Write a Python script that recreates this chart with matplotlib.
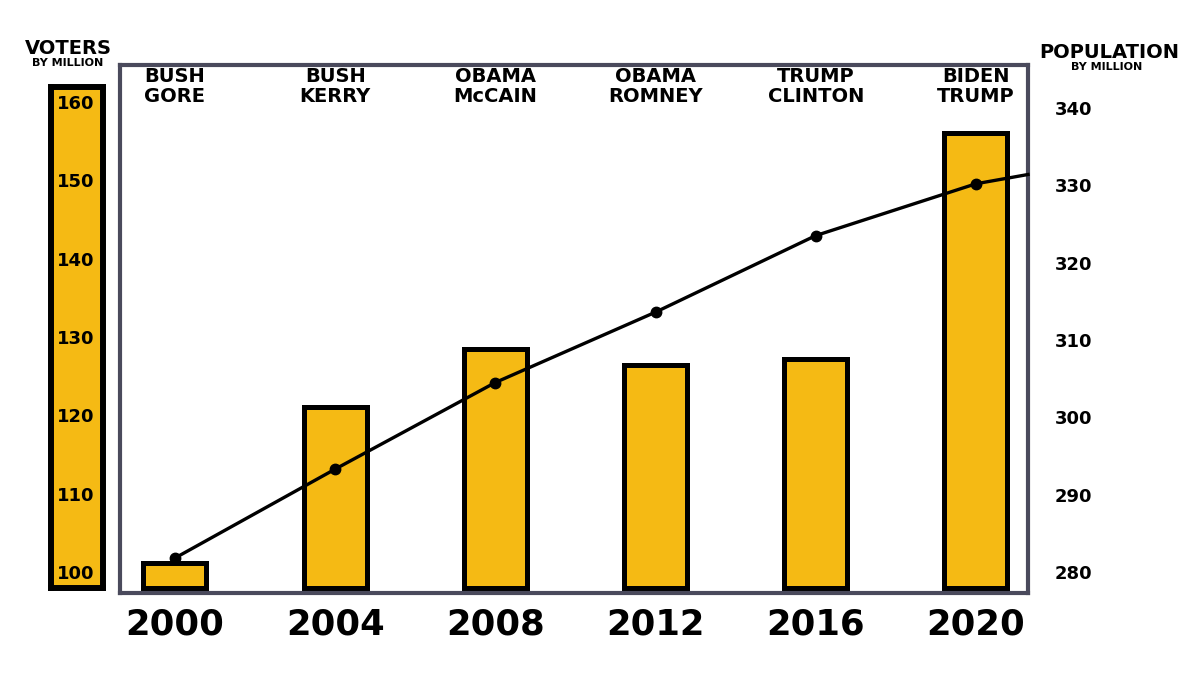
import matplotlib
matplotlib.use("Agg")
import matplotlib.pyplot as plt
from matplotlib import transforms

# ---- data ----
years = ["2000", "2004", "2008", "2012", "2016", "2020"]
candidates_top = ["BUSH", "BUSH", "OBAMA", "OBAMA", "TRUMP", "BIDEN"]
candidates_bottom = ["GORE", "KERRY", "McCAIN", "ROMNEY", "CLINTON", "TRUMP"]
voters = [101.4, 121.3, 128.7, 126.7, 127.5, 156.3]          # millions
population = [281.8, 293.3, 304.5, 313.6, 323.5, 330.2]       # millions
population_trend_end = 331.4                                   # line continues to frame edge
voter_ticks = [100, 110, 120, 130, 140, 150, 160]
pop_ticks = [280, 290, 300, 310, 320, 330, 340]

YELLOW = "#F5BA14"
FRAME = "#4A4A5C"
FONT = "DejaVu Sans"

W, H = 1200, 682
fig = plt.figure(figsize=(W / 100, H / 100), dpi=100)
fig.patch.set_facecolor("white")


def fx(px):
    return px / W


def fy(py):
    return 1 - py / H


# ---- main axes ----
ax = fig.add_axes([fx(120), fy(593), fx(1028) - fx(120), fy(65) - fy(593)])
ax.set_xlim(-0.343, 5.325)
ax.set_ylim(97.57, 164.98)
x = list(range(len(years)))
bar_floor = 98.2
ax.bar(x, [v - bar_floor for v in voters], bottom=bar_floor, width=0.393,
       color=YELLOW, edgecolor="black", linewidth=3.6, zorder=2)
for s in ax.spines.values():
    s.set_color(FRAME)
    s.set_linewidth(3.0)
ax.set_xticks(x)
ax.set_xticklabels(years, fontsize=25.5, fontweight="bold", family=FONT)
ax.tick_params(axis="x", length=0, pad=10.5)
ax.set_yticks([])

# candidate names at top
tr = transforms.blended_transform_factory(ax.transData, fig.transFigure)
for i in x:
    ax.text(i, fy(77), candidates_top[i], transform=tr, ha="center", va="center",
            fontsize=14, fontweight="bold", family=FONT)
    ax.text(i, fy(97), candidates_bottom[i], transform=tr, ha="center", va="center",
            fontsize=14, fontweight="bold", family=FONT)

# ---- population line on right axis ----
ax2 = ax.twinx()
ax2.set_ylim(277.28, 345.56)
ax2.plot(x, population, color="black", lw=2.4, marker="o", ms=7.5, zorder=3)
ax2.plot([x[-1], ax.get_xlim()[1]], [population[-1], population_trend_end],
         color="black", lw=2.4, zorder=3, clip_on=False)
for s in ax2.spines.values():
    s.set_visible(False)
ax2.set_yticks(pop_ticks)
ax2.set_yticklabels([str(t) for t in pop_ticks], fontsize=13, fontweight="bold", family=FONT)
ax2.tick_params(axis="y", length=0, pad=19)

# ---- left yellow voters scale ----
axl = fig.add_axes([fx(51), fy(588), fx(103) - fx(51), fy(87) - fy(588)])
axl.set_facecolor(YELLOW)
axl.set_xlim(0, 1)
axl.set_ylim(98.21, 162.17)
for s in axl.spines.values():
    s.set_color("black")
    s.set_linewidth(4.3)
axl.set_xticks([])
axl.set_yticks([])
for t in voter_ticks:
    axl.text(0.47, t, str(t), ha="center", va="center", fontsize=13,
             fontweight="bold", family=FONT)

# ---- axis titles ----
fig.text(fx(68), fy(49), "VOTERS", ha="center", va="center", fontsize=14,
         fontweight="bold", family=FONT)
fig.text(fx(68), fy(63.5), "BY MILLION", ha="center", va="center", fontsize=8,
         fontweight="bold", family=FONT)
fig.text(fx(1109), fy(52.5), "POPULATION", ha="center", va="center", fontsize=14,
         fontweight="bold", family=FONT)
fig.text(fx(1107), fy(67), "BY MILLION", ha="center", va="center", fontsize=8,
         fontweight="bold", family=FONT)

fig.savefig("out.png", dpi=100)
